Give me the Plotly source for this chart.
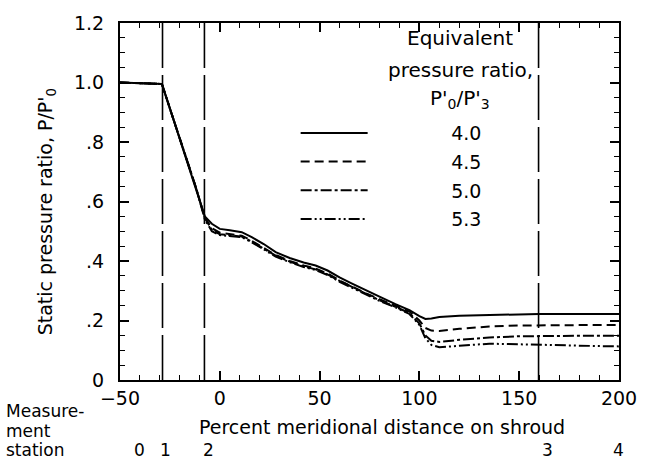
import plotly.graph_objects as go

# ---- data ----
x_pct = [-50, -29, -24, -18, -12, -7.5, -4, 0, 5, 11, 16, 22, 28, 35, 42, 48, 54, 60,
         66, 72, 80, 88, 95, 100, 103, 106, 110, 120, 135, 150, 160, 175, 190, 200]

p_40 = [1.0, 0.995, 0.892, 0.77, 0.648, 0.55, 0.525, 0.508, 0.503, 0.497, 0.48, 0.457,
        0.43, 0.41, 0.395, 0.385, 0.368, 0.345, 0.325, 0.305, 0.28, 0.255, 0.235, 0.215,
        0.205, 0.207, 0.212, 0.216, 0.219, 0.221, 0.222, 0.222, 0.222, 0.222]
p_45 = [1.0, 0.995, 0.892, 0.77, 0.648, 0.545, 0.51, 0.495, 0.49, 0.485, 0.468, 0.445,
        0.42, 0.40, 0.385, 0.375, 0.358, 0.335, 0.315, 0.295, 0.272, 0.25, 0.23, 0.20,
        0.175, 0.166, 0.165, 0.172, 0.18, 0.183, 0.184, 0.185, 0.185, 0.185]
p_50 = [1.0, 0.995, 0.892, 0.77, 0.648, 0.545, 0.505, 0.49, 0.487, 0.482, 0.465, 0.442,
        0.418, 0.398, 0.382, 0.372, 0.355, 0.333, 0.313, 0.292, 0.268, 0.246, 0.225, 0.19,
        0.15, 0.132, 0.128, 0.135, 0.143, 0.147, 0.148, 0.149, 0.149, 0.149]
p_53 = [1.0, 0.995, 0.892, 0.77, 0.648, 0.54, 0.50, 0.487, 0.484, 0.48, 0.463, 0.44,
        0.415, 0.396, 0.38, 0.37, 0.353, 0.33, 0.31, 0.29, 0.266, 0.244, 0.222, 0.185,
        0.14, 0.118, 0.11, 0.115, 0.122, 0.12, 0.118, 0.116, 0.114, 0.113]

series_names = ["4.0", "4.5", "5.0", "5.3"]
series_vals = [p_40, p_45, p_50, p_53]

station_labels = ["0", "1", "2", "3", "4"]
station_label_x = [-40, -27, -5.5, 164, 199.5]
station_lines = [-28.7, -7.7, 159.7]

y_tickvals = [0, 0.2, 0.4, 0.6, 0.8, 1.0, 1.2]
y_ticktext = ["0", ".2", ".4", ".6", ".8", "1.0", "1.2"]
x_tickvals = [-50, 0, 50, 100, 150, 200]

# ---- styles ----
FONT = "DejaVu Sans, Liberation Sans, Arial, sans-serif"
FS = 19
dashes = ["solid", "9px,5px", "11px,3px,3px,3px", "11px,3px,2px,3px,2px,3px"]

fig = go.Figure()
for name, vals, dash in zip(series_names, series_vals, dashes):
    fig.add_trace(go.Scatter(
        x=x_pct, y=vals, mode="lines", name="             " + name,
        legendgroup=name,
        line=dict(color="black", width=2, dash=dash),
    ))

for sx in station_lines:
    fig.add_shape(type="line", xref="x", yref="paper", x0=sx, x1=sx, y0=0, y1=1,
                  line=dict(color="black", width=1.6, dash="45px,7px"))

axis_common = dict(
    showline=True, linecolor="black", linewidth=2, mirror="ticks",
    ticks="inside", ticklen=9, tickwidth=1.6, tickcolor="black",
    showgrid=False, zeroline=False,
    tickfont=dict(family=FONT, size=FS, color="black"),
)

fig.update_xaxes(range=[-50, 200], tickvals=x_tickvals,
                 minor=dict(dtick=10, ticks="inside", ticklen=5, tickwidth=1.4,
                            tickcolor="black", showgrid=False),
                 **axis_common)
fig.update_yaxes(range=[0, 1.2], tickvals=y_tickvals, ticktext=y_ticktext,
                 ticklabelstandoff=10,
                 minor=dict(dtick=0.05, ticks="inside", ticklen=5, tickwidth=1.4,
                            tickcolor="black", showgrid=False),
                 **axis_common)

ann = []
ann.append(dict(text="Static pressure ratio, P/P'<sub>0</sub>", xref="paper", yref="paper",
                x=-0.148, y=0.47, textangle=-90, xanchor="center", yanchor="middle",
                showarrow=False, font=dict(family=FONT, size=FS, color="black")))
ann.append(dict(text="Percent meridional distance on shroud", xref="paper", yref="paper",
                x=0.526, y=-0.133, xanchor="center", yanchor="middle", showarrow=False,
                font=dict(family=FONT, size=FS, color="black")))
for i, t in enumerate(["Measure-", "ment", "station"]):
    ann.append(dict(text=t, xref="paper", yref="paper", x=-0.232, y=-0.088 - i * 0.054,
                    xanchor="left", yanchor="middle", showarrow=False,
                    font=dict(family=FONT, size=17, color="black")))
for lab, sx in zip(station_labels, station_label_x):
    ann.append(dict(text=lab, xref="x", yref="paper", x=sx, y=-0.197,
                    xanchor="center", yanchor="middle", showarrow=False,
                    font=dict(family=FONT, size=17, color="black")))
title_y = [0.958, 0.869, 0.786]
for t, ty in zip(["Equivalent", "pressure ratio,", "P'<sub>0</sub>/P'<sub>3</sub>"], title_y):
    ann.append(dict(text=t, xref="paper", yref="paper", x=0.682, y=ty,
                    xanchor="center", yanchor="middle", showarrow=False,
                    font=dict(family=FONT, size=20, color="black")))

fig.update_layout(
    width=649, height=464,
    margin=dict(l=120, r=23, t=16, b=84),
    paper_bgcolor="white", plot_bgcolor="white",
    font=dict(family=FONT, size=FS, color="black"),
    annotations=ann,
    showlegend=True,
    legend=dict(x=0.352, y=0.745, xanchor="left", yanchor="top",
                bgcolor="rgba(0,0,0,0)", itemwidth=67, tracegroupgap=1,
                font=dict(family=FONT, size=FS, color="black")),
)

fig.write_html("out.html")
